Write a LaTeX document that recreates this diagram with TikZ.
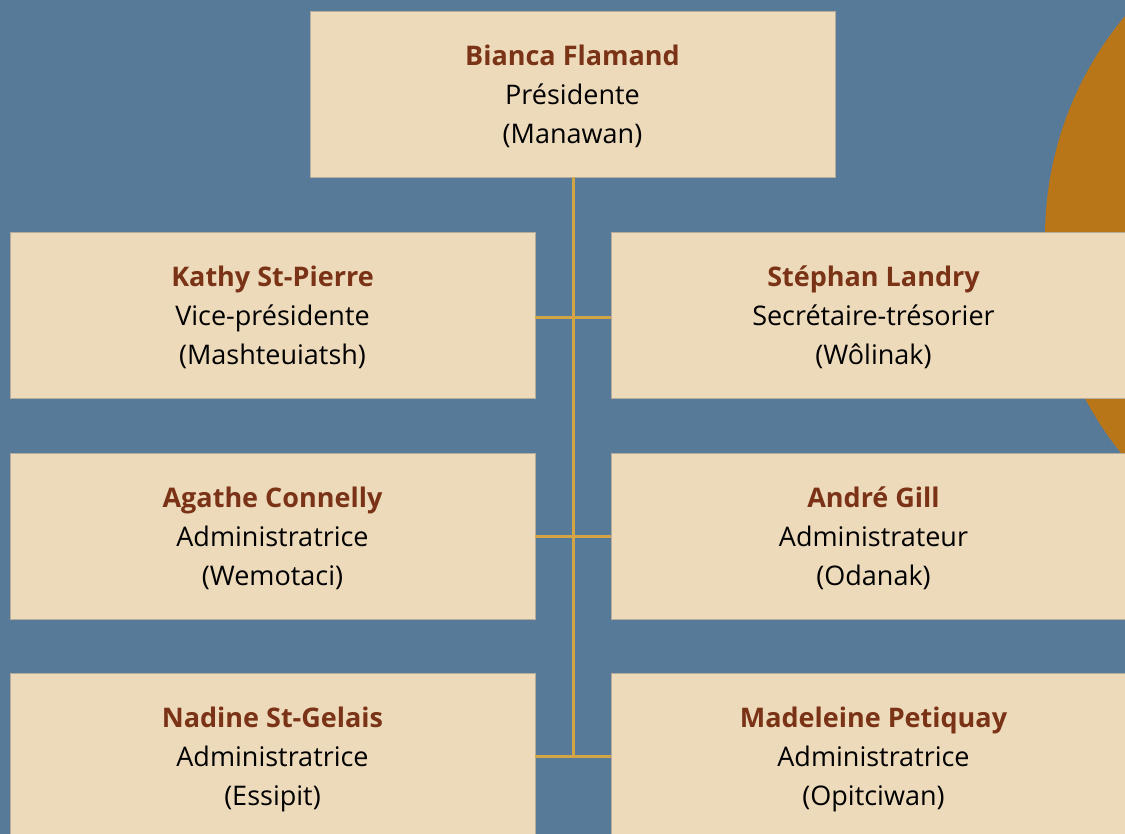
\documentclass[tikz,border=0pt]{standalone}
\usepackage{fontspec}
\setmainfont{Open Sans}
\definecolor{bg}{HTML}{587A99}
\definecolor{boxfill}{HTML}{EDDABA}
\definecolor{namecol}{HTML}{7A3316}
\definecolor{sun}{HTML}{B87619}
\definecolor{linecol}{HTML}{D2A446}
\definecolor{edge}{HTML}{B5AC9C}
\begin{document}
\begin{tikzpicture}[x=1pt,y=-1pt,
  member/.style={rectangle, fill=boxfill, draw=edge, line width=0.8pt,
    minimum width=525pt, minimum height=166pt, inner sep=0pt,
    align=center, text=black, font=\fontsize{27}{39}\selectfont},
  conn/.style={draw=linecol, line width=3pt}]
\useasboundingbox (0,0) rectangle (1125,834);
\clip (0,0) rectangle (1125,834);
\fill[bg] (0,0) rectangle (1125,834);
\fill[sun] (1390,237) circle (345pt);
% boxes
\node[member] (pres) at (572.5,94) {};
\node[member] (l1) at (272.5,315) {};
\node[member] (r1) at (873.5,315) {};
\node[member] (l2) at (272.5,536) {};
\node[member] (r2) at (873.5,536) {};
\node[member] (l3) at (272.5,756) {};
\node[member] (r3) at (873.5,756) {};
% texts
\tikzset{txt/.style={align=center, font=\fontsize{27}{39}\selectfont, inner sep=0pt}}
\node[txt] (tpres) at (572.5,96.5) {\textbf{\color{namecol}Bianca Flamand}\\Présidente\\(Manawan)};
\node[txt] (tl1) at (272.5,317.5) {\textbf{\color{namecol}Kathy St-Pierre}\\Vice-présidente\\(Mashteuiatsh)};
\node[txt] (tr1) at (873.5,317.5) {\textbf{\color{namecol}Stéphan Landry}\\Secrétaire-trésorier\\(Wôlinak)};
\node[txt] (tl2) at (272.5,538.5) {\textbf{\color{namecol}Agathe Connelly}\\Administratrice\\(Wemotaci)};
\node[txt] (tr2) at (873.5,538.5) {\textbf{\color{namecol}André Gill}\\Administrateur\\(Odanak)};
\node[txt] (tl3) at (272.5,759) {\textbf{\color{namecol}Nadine St-Gelais}\\Administratrice\\(Essipit)};
\node[txt] (tr3) at (873.5,759) {\textbf{\color{namecol}Madeleine Petiquay}\\Administratrice\\(Opitciwan)};
% connectors
\coordinate (stem) at (573,756);
\draw[conn] (pres.south -| stem) -- (stem);
\draw[conn] (l1.east |- 0,318) -- (r1.west |- 0,318);
\draw[conn] (l2.east |- 0,536) -- (r2.west |- 0,536);
\draw[conn] (l3.east |- 0,756) -- (r3.west |- 0,756);
\end{tikzpicture}
\end{document}
